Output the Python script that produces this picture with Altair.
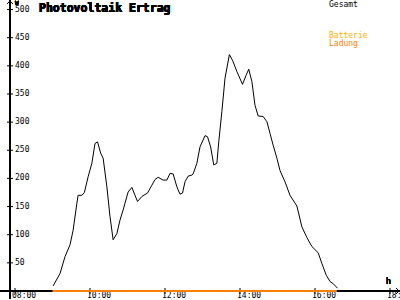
import altair as alt
import pandas as pd

# ---- data ----
times = ["09:01", "09:12", "09:20", "09:28", "09:33", "09:39", "09:41", "09:47", "09:51", "09:57",
         "10:03", "10:08", "10:12", "10:17", "10:21", "10:27", "10:32", "10:37", "10:43", "10:48",
         "10:53", "10:56", "11:01", "11:07", "11:12", "11:16", "11:23", "11:32", "11:39", "11:44",
         "11:49", "11:57", "12:03", "12:08", "12:13", "12:19", "12:24", "12:28", "12:32", "12:37",
         "12:43", "12:45", "12:51", "12:56", "13:04", "13:08", "13:13", "13:18", "13:23", "13:26",
         "13:31", "13:36", "13:43", "13:48", "13:55", "14:04", "14:10", "14:14", "14:19", "14:24",
         "14:29", "14:37", "14:43", "14:48", "14:53", "14:59", "15:04", "15:12", "15:20", "15:31",
         "15:39", "15:47", "15:55", "16:05", "16:11", "16:18", "16:24", "16:30", "16:36"]
gesamt = [9, 31, 61, 82, 108, 156, 170, 170, 175, 203,
          227, 262, 265, 245, 236, 185, 132, 91, 102, 126,
          144, 156, 176, 184, 170, 159, 168, 174, 188, 198,
          202, 197, 197, 209, 208, 185, 172, 174, 194, 204,
          206, 208, 227, 256, 276, 274, 256, 224, 227, 265,
          319, 378, 420, 410, 390, 367, 384, 394, 372, 330,
          311, 310, 301, 280, 259, 236, 214, 194, 170, 151,
          114, 95, 79, 68, 49, 28, 17, 12, 5]
ladung_times = ["09:00", "16:35"]
ladung = [0, 0]

y_ticks = [50, 100, 150, 200, 250, 300, 350, 400, 450, 500]
x_ticks = [8, 10, 12, 14, 16, 18]
x_labels = ["08:00", "10:00", "12:00", "14:00", "16:00", "18:"]

legend_names = ["Gesamt", "Batterie", "Ladung"]
legend_colors = ["#000000", "#FFB000", "#FF8000"]


def to_hours(s):
    h, m = s.split(":")
    return int(h) + int(m) / 60.0


df = pd.DataFrame({"t": [to_hours(s) for s in times], "w": gesamt})
dl = pd.DataFrame({"t": [to_hours(s) for s in ladung_times], "w": ladung})
dyt = pd.DataFrame({"v": y_ticks, "lab": [str(v) for v in y_ticks]})
dxt = pd.DataFrame({"t": x_ticks, "lab": x_labels})

FONT = "DejaVu Sans Mono"
xs = alt.Scale(domain=[8 - 5 / 37.5, 8 + 380 / 37.5], nice=False, zero=False)
ys = alt.Scale(domain=[0, 288 / 0.5629], nice=False, zero=False)
X = lambda f: alt.X(f, type="quantitative", scale=xs, axis=None)
Y = lambda f: alt.Y(f, type="quantitative", scale=ys, axis=None)

curve = alt.Chart(df).mark_line(color="#000000", strokeWidth=1, clip=False).encode(x=X("t"), y=Y("w"))
orange = alt.Chart(dl).mark_line(color="#FF8000", strokeWidth=2).encode(x=X("t"), y=Y("w"))

yaxis = alt.Chart(dyt).mark_rule(color="#000000", strokeWidth=1.5).encode(
    x=alt.value(0), y=alt.value(-3), y2=alt.value(296))
xaxis = alt.Chart(dyt).mark_rule(color="#000000", strokeWidth=1.5).encode(
    y=alt.value(288), x=alt.value(-10), x2=alt.value(390))
yarrow = alt.Chart(dyt).mark_point(shape="M -1 1 L 0 0 L 1 1", filled=False, size=30,
                                   color="#000000", strokeWidth=1, opacity=1).encode(
    x=alt.value(0), y=alt.value(-2))
xarrow = alt.Chart(dyt).mark_point(shape="M -1 -1 L 0 0 L -1 1", filled=False, size=30,
                                   color="#000000", strokeWidth=1, opacity=1).encode(
    x=alt.value(389), y=alt.value(288))

yticks = alt.Chart(dyt).mark_rule(color="#000000", strokeWidth=1).encode(
    y=Y("v"), x=alt.value(-3), x2=alt.value(3))
ylabels = alt.Chart(dyt).mark_text(font=FONT, fontSize=8, align="left", baseline="middle",
                                   color="#000000").encode(
    y=Y("v"), x=alt.value(5), text="lab:N")
xticks = alt.Chart(dxt).mark_rule(color="#000000", strokeWidth=1).encode(
    x=X("t"), y=alt.value(285), y2=alt.value(291))
xlabels = alt.Chart(dxt).mark_text(font=FONT, fontSize=8, align="left", baseline="middle",
                                   dx=-3, color="#000000").encode(
    x=X("t"), y=alt.value(293), text="lab:N")

title = alt.Chart(dyt).mark_text(text="Photovoltaik Ertrag", font=FONT, fontSize=11.5,
                                 fontWeight="bold", align="left", baseline="top",
                                 color="#000000").encode(x=alt.value(29), y=alt.value(0))
wlab = alt.Chart(dyt).mark_text(text="W", font=FONT, fontSize=6, align="left", baseline="middle",
                                color="#000000").encode(x=alt.value(5), y=alt.value(0))
hlab = alt.Chart(dyt).mark_text(text="h", font=FONT, fontSize=8, align="left", baseline="middle",
                                color="#000000").encode(x=alt.value(376), y=alt.value(279))

dleg = pd.DataFrame({"name": legend_names, "col": legend_colors, "yy": [1.5, 33, 41]})
legend = alt.Chart(dleg).mark_text(font=FONT, fontSize=8, align="left", baseline="middle").encode(
    x=alt.value(319), y=alt.Y("yy:Q", scale=None, axis=None), text="name:N",
    color=alt.Color("col:N", scale=None))

chart = alt.layer(yaxis, xaxis, yticks, xticks, ylabels, xlabels, yarrow, xarrow,
                  curve, orange, title, wlab, hlab, legend).properties(
    width=385, height=288,
    autosize=alt.AutoSizeParams(type="none"),
    padding={"left": 10, "top": 3, "right": 5, "bottom": 9},
    background="#FFFFFF",
).configure_view(stroke=None)

chart.save("out.html", embed_options={"renderer": "svg", "actions": False})
